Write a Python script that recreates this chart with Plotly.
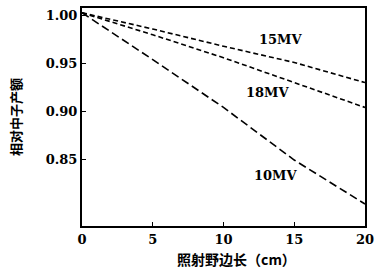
import plotly.graph_objects as go

field_size = [0, 5, 10, 15, 20]
yield_15mv = [1.003, 0.986, 0.968, 0.951, 0.930]
yield_18mv = [1.003, 0.980, 0.956, 0.930, 0.904]
yield_10mv = [1.003, 0.954, 0.904, 0.849, 0.803]

series = [("15MV", yield_15mv, "5px,3px", 14.0, 0.975),
          ("18MV", yield_18mv, "5px,3px", 13.1, 0.920),
          ("10MV", yield_10mv, "8px,4px", 13.7, 0.833)]

SERIF = "DejaVu Serif"

fig = go.Figure()
for name, ys, dash, lx, ly in series:
    fig.add_trace(go.Scatter(x=field_size, y=ys, mode="lines", name=name,
                             line=dict(color="black", width=1.6, dash=dash),
                             showlegend=False))
    fig.add_annotation(x=lx, y=ly, text="<b>%s</b>" % name, showarrow=False,
                       font=dict(family=SERIF, size=13, color="black"))

fig.add_annotation(xref="paper", yref="paper", x=0.545, y=-0.151, yanchor="middle",
                   text="<b>照射野边长（cm）</b>", showarrow=False,
                   font=dict(family="Noto Sans CJK SC", size=14, color="black"))
fig.add_annotation(xref="paper", yref="paper", x=-0.237, y=0.5, textangle=-90,
                   xanchor="center", yanchor="middle",
                   text="<b>相对中子产额</b>", showarrow=False,
                   font=dict(family="Noto Sans CJK SC", size=13, color="black"))

fig.update_layout(
    width=387, height=268,
    margin=dict(l=82, r=22, t=8, b=42),
    paper_bgcolor="white", plot_bgcolor="white",
    font=dict(family=SERIF, color="black", size=14),
    xaxis=dict(range=[0, 20], tickvals=[0, 5, 10, 15, 20],
               ticktext=["<b>0</b>", "<b>5</b>", "<b>10</b>", "<b>15</b>", "<b>20</b>"],
               tickfont=dict(size=13),
               ticks="inside", ticklen=4, tickcolor="black", showgrid=False, automargin=False,
               zeroline=False, showline=True, linecolor="black", linewidth=2, mirror=True),
    yaxis=dict(range=[0.78, 1.008], tickvals=[0.85, 0.90, 0.95, 1.00],
               ticktext=["<b>0.85</b>", "<b>0.90</b>", "<b>0.95</b>", "<b>1.00</b>"],
               tickfont=dict(size=13),
               ticks="inside", ticklen=4, tickcolor="black", showgrid=False, automargin=False,
               zeroline=False, showline=True, linecolor="black", linewidth=2, mirror=True),
)
fig.write_html("out.html", config={"displayModeBar": False},
               post_script="document.body.style.margin='0';document.body.style.overflow='hidden';")
